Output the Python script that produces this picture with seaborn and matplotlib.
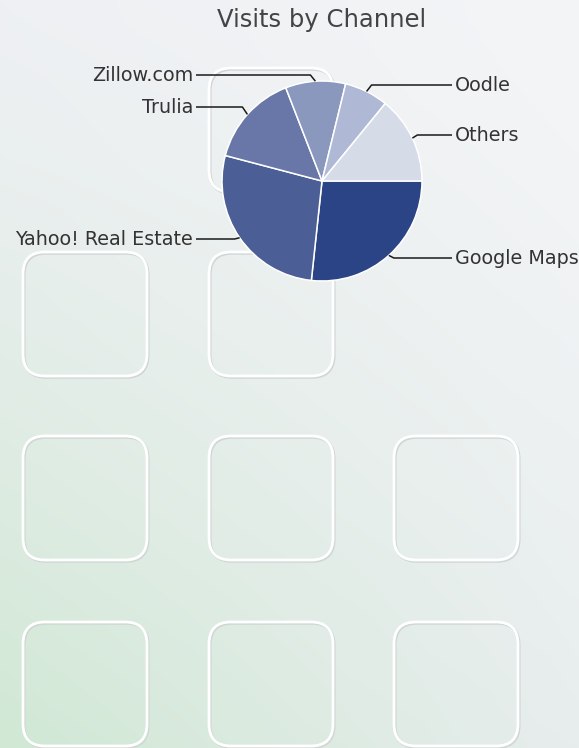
import numpy as np
import matplotlib
matplotlib.use("Agg")
import matplotlib.pyplot as plt
from matplotlib.patches import FancyBboxPatch
import seaborn as sns

# data
channels = ["Google Maps", "Yahoo! Real Estate", "Trulia", "Zillow.com", "Oodle", "Others"]
visits = [26.7, 27.4, 15.0, 9.7, 7.1, 14.1]
colors = ["#2B4485", "#4B5E96", "#6877A8", "#8A98BE", "#AFB9D6", "#D6DBE8"]

sns.set_style("white")
plt.rcParams['font.family'] = ['DejaVu Sans']

W, H = 579, 748
fig = plt.figure(figsize=(W / 100, H / 100), dpi=100)
ax = fig.add_axes([0, 0, 1, 1])

# background gradient (smooth blend between corner colours)
tl = np.array([0xEE, 0xF0, 0xF3]) / 255.0
tr = np.array([0xF4, 0xF5, 0xF7]) / 255.0
bl = np.array([0xD0, 0xE8, 0xD4]) / 255.0
br = np.array([0xE7, 0xED, 0xED]) / 255.0
u = np.linspace(0, 1, 200)[None, :, None]
v = np.linspace(0, 1, 260)[:, None, None] ** 1.3
bg = (1 - v) * ((1 - u) * tl + u * tr) + v * ((1 - u) * bl + u * br)
ax.imshow(bg, extent=(0, W, H, 0), interpolation="bilinear", zorder=0)

# rounded squares behind the chart
sq_cols = [23, 209, 394]
sq_rows = [252, 436, 622]
size = 124
cells = [(209, 68)] + [(c, r) for r in sq_rows for c in sq_cols if not (r == 252 and c == 394)]
for x0, y0 in cells:
    shadow = FancyBboxPatch((x0 + 1.0, y0 + 1.2), size, size,
                            boxstyle="round,pad=0,rounding_size=22",
                            fc="none", ec="#d0d6d5", lw=2.2, zorder=1)
    ax.add_patch(shadow)
    box = FancyBboxPatch((x0, y0), size, size,
                         boxstyle="round,pad=0,rounding_size=22",
                         fc="none", ec="white", lw=2.0, zorder=2)
    ax.add_patch(box)

# pie
cx, cy, r = 322, 181, 100
wedges, _ = ax.pie(visits, colors=colors, startangle=0, counterclock=True,
                   center=(cx, cy), radius=r, frame=True,
                   wedgeprops=dict(edgecolor="white", linewidth=1.1))
for w in wedges:
    w.set_zorder(3)

# labels with leader lines
label_pos = {
    "Google Maps": (455, 258),
    "Yahoo! Real Estate": (193, 239),
    "Trulia": (193, 107),
    "Zillow.com": (193, 75),
    "Oodle": (455, 85),
    "Others": (455, 135),
}
for w, name in zip(wedges, channels):
    mid = np.deg2rad((w.theta1 + w.theta2) / 2)
    ex, ey = cx + r * np.cos(mid), cy + r * np.sin(mid)
    lx, ly = label_pos[name]
    side = 1 if lx > cx else -1
    elbow_x = ex + 5 * np.sign(np.cos(mid))
    ax.plot([ex, elbow_x, lx - side * 3], [ey, ly, ly], color="#1a1a1a",
            lw=1.1, zorder=4, solid_capstyle="butt")
    ax.text(lx, ly, name, ha="left" if side > 0 else "right", va="center",
            fontsize=13.8, color="#333333", zorder=5)

ax.text(cx, 20, "Visits by Channel", ha="center", va="center",
        fontsize=17.5, color="#444444", zorder=5)

ax.set_xlim(0, W)
ax.set_ylim(H, 0)
ax.set_aspect("auto")
ax.axis("off")

fig.savefig("out.png", dpi=100)
